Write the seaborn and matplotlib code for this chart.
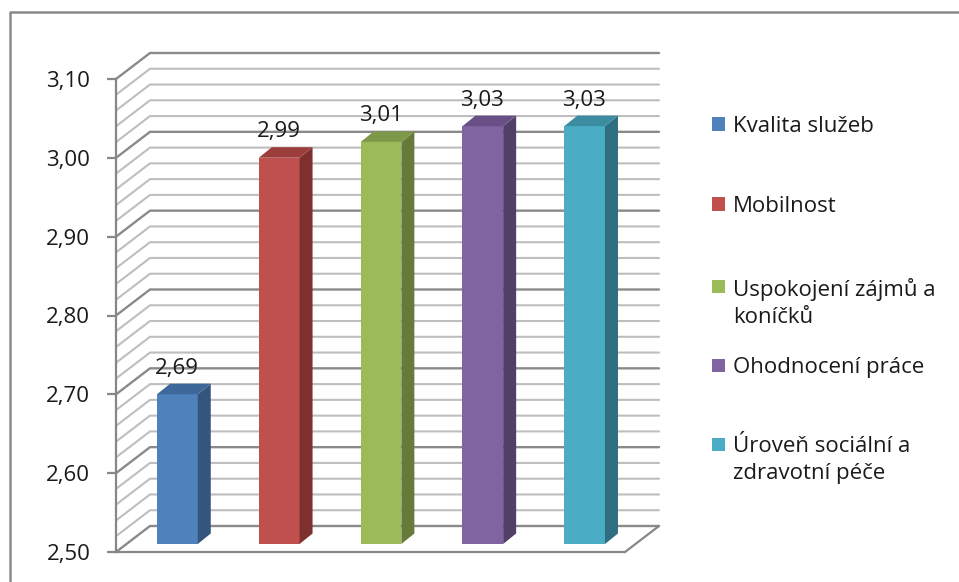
import matplotlib
matplotlib.use("Agg")
import matplotlib.pyplot as plt
import seaborn as sns
import numpy as np
import pandas as pd
from matplotlib.transforms import ScaledTranslation, IdentityTransform
from matplotlib.patches import Polygon, Rectangle
from matplotlib.lines import Line2D

# ---------------- data ----------------
categories = ["Kvalita služeb", "Mobilnost", "Uspokojení zájmů a\nkoníčků",
              "Ohodnocení práce", "Úroveň sociální a\nzdravotní péče"]
values = [2.69, 2.99, 3.01, 3.03, 3.03]
value_labels = ["2,69", "2,99", "3,01", "3,03", "3,03"]
colors = ["#4F81BD", "#C0504D", "#9BBB59", "#8064A2", "#4BACC6"]
side_colors = ["#34557E", "#7E302E", "#667A3A", "#513F68", "#2F6E80"]
top_colors = ["#3E679A", "#9B3E3B", "#7E9849", "#684F86", "#3C8CA2"]
y_ticks = [2.50, 2.60, 2.70, 2.80, 2.90, 3.00, 3.10]
y_tick_labels = ["2,50", "2,60", "2,70", "2,80", "2,90", "3,00", "3,10"]
y_min, y_max = 2.50, 3.10

# ---------------- style ----------------
sns.set_theme(style="white")
FONT = ["Open Sans", "DejaVu Sans"]
plt.rcParams["font.family"] = FONT
FS = 16
TXT = "#1a1a1a"
GRID_MINOR = "#bebebe"
GRID_MAJOR = "#8a8a8a"
AXIS_C = "#878787"

W, H = 959, 582
fig = plt.figure(figsize=(W / 100, H / 100), dpi=100)
fig.patch.set_facecolor("white")

# front plane of the 3-D box
x_left, x_right = 116, 625
y_bot, y_top = 552, 79
ax = fig.add_axes([x_left / W, (H - y_bot) / H, (x_right - x_left) / W, (y_bot - y_top) / H])
ax.set_facecolor("none")

DEPTH = (34.0, 26.0)      # px, front plane -> back wall
BAR_OFF = (10.5, 8.0)     # px, front plane -> bar front face
BAR_DEPTH = (13.0, 10.5)  # px, depth of each column

df = pd.DataFrame({"cat": categories, "val": values})
sns.barplot(data=df, x="cat", y="val", hue="cat", palette=colors, width=0.4,
            saturation=1, ax=ax, legend=False, edgecolor="none", linewidth=0)

ax.set_xlim(-0.5, len(categories) - 0.5)
ax.set_ylim(y_min, y_max)
ax.set_xticks([])
ax.set_xlabel("")
ax.set_ylabel("")
ax.set_yticks(y_ticks)
ax.set_yticklabels(y_tick_labels)
for s in ["top", "right"]:
    ax.spines[s].set_visible(False)
for s in ["left", "bottom"]:
    ax.spines[s].set_color(AXIS_C)
    ax.spines[s].set_linewidth(1.6)
ax.tick_params(axis="y", left=True, length=6.5, width=1.6, color=AXIS_C,
               pad=12, labelsize=FS, labelcolor=TXT)

ident = IdentityTransform()
to_disp = ax.transData.transform

# back wall gridlines + side wall diagonals
n_lines = int(round((y_max - y_min) / 0.02)) + 1
for k in range(n_lines):
    v = y_min + k * 0.02
    major = (k % 5 == 0)
    fx, fy = to_disp((-0.5, v))
    rx, ry = to_disp((len(categories) - 0.5, v))
    xs = [fx, fx + DEPTH[0], rx + DEPTH[0]]
    ys = [fy, fy + DEPTH[1], ry + DEPTH[1]]
    ax.add_line(Line2D(xs, ys, transform=ident, clip_on=False,
                       color=GRID_MAJOR if major else GRID_MINOR,
                       lw=1.7 if major else 1.5, zorder=1))

# floor right edge
fx, fy = to_disp((len(categories) - 0.5, y_min))
ax.add_line(Line2D([fx, fx + DEPTH[0]], [fy, fy + DEPTH[1]], transform=ident,
                   clip_on=False, color=AXIS_C, lw=1.6, zorder=1))

# columns: front faces from seaborn, shifted into the bar plane
bar_tr = ax.transData + ScaledTranslation(BAR_OFF[0] / 100, BAR_OFF[1] / 100, fig.dpi_scale_trans)
patches = sorted(ax.patches, key=lambda p: p.get_x())
for i, p in enumerate(patches):
    h = p.get_height()
    p.set_y(y_min)
    p.set_height(h - y_min)
    p.set_transform(bar_tr)
    p.set_clip_on(False)
    p.set_zorder(3)
    x0, y0 = bar_tr.transform((p.get_x(), y_min))
    x1, y1 = bar_tr.transform((p.get_x() + p.get_width(), h))
    bx, by = BAR_DEPTH
    side = [(x1, y0), (x1 + bx, y0 + by), (x1 + bx, y1 + by), (x1, y1)]
    top = [(x0, y1), (x1, y1), (x1 + bx, y1 + by), (x0 + bx, y1 + by)]
    ax.add_patch(Polygon(side, closed=True, transform=ident, clip_on=False,
                         facecolor=side_colors[i], edgecolor="none", zorder=3))
    ax.add_patch(Polygon(top, closed=True, transform=ident, clip_on=False,
                         facecolor=top_colors[i], edgecolor="none", zorder=3))
    ax.annotate(value_labels[i], xy=(p.get_x() + p.get_width() / 2, h), xycoords="data",
                xytext=(10 * 0.72, 34 * 0.72), textcoords="offset points",
                ha="center", va="center", fontsize=FS, color=TXT, zorder=4,
                annotation_clip=False)

# outer chart border (top and left)
fig.add_artist(Line2D([10 / W, 10 / W, 1.0], [0.0, (H - 12) / H, (H - 12) / H],
                      transform=fig.transFigure, color="#8a8a8a", lw=1.8))

# legend (marker centred on the first text line)
leg_y = [124, 204, 286, 365, 444]
for i, cat in enumerate(categories):
    yc = leg_y[i]
    fig.add_artist(Rectangle((712 / W, (H - yc - 6.5) / H), 13 / W, 13 / H,
                             transform=fig.transFigure, facecolor=colors[i], edgecolor="none"))
    fig.text(733 / W, (H - yc + 8) / H, cat, ha="left", va="top",
             fontsize=FS, color=TXT, linespacing=1.35)

fig.savefig("out.png", dpi=100, facecolor="white")
